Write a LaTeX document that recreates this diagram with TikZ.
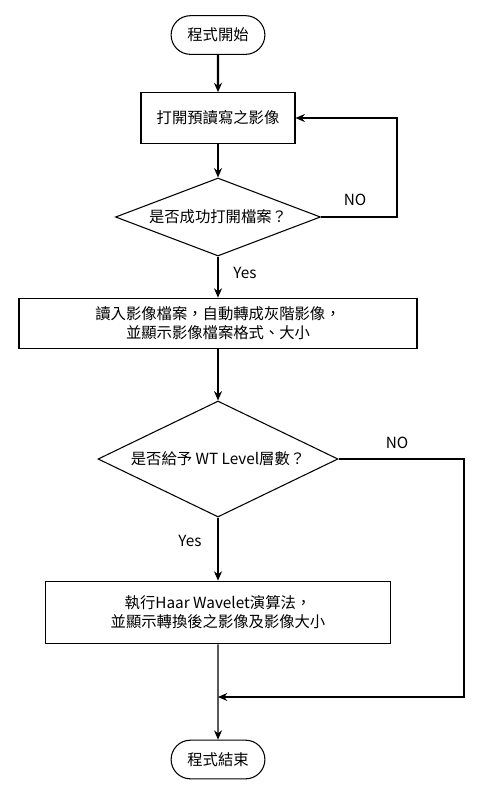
\documentclass[tikz,border=0pt]{standalone}
\usepackage{fontspec}
\setmainfont{Noto Sans CJK TC}
\usetikzlibrary{arrows.meta,positioning,shapes.geometric,shapes.misc}

\begin{document}
\begin{tikzpicture}[x=0.75pt,y=-0.75pt,line width=0.8pt,
  font=\fontsize{11.5}{14.5}\selectfont,
  term/.style={draw,rounded rectangle,minimum width=77pt,minimum height=29pt},
  proc/.style={draw,rectangle,align=center},
  decision/.style={draw,diamond,inner sep=0pt},
  arr/.style={-{Stealth[length=7pt,width=6pt]}}]
\useasboundingbox (0,0) rectangle (483,793);
\node[term] (start) at (218,35) {程式開始};
\node[proc,minimum width=115.5pt,minimum height=38pt] (open) at (218,118) {打開預讀寫之影像};
\node[decision,aspect=2.63,minimum width=153.75pt,minimum height=58.5pt] (ok) at (218,217) {是否成功打開檔案？};
\node[proc,minimum width=298.5pt,minimum height=38pt] (read) at (218,323.5) {讀入影像檔案，自動轉成灰階影像，\\並顯示影像檔案格式、大小};
\node[decision,aspect=2.07,minimum width=180pt,minimum height=87pt] (level) at (218,459) {是否給予 WT Level層數？};
\node[proc,minimum width=258.75pt,minimum height=47pt] (haar) at (218,612.5) {執行Haar Wavelet演算法，\\並顯示轉換後之影像及影像大小};
\node[term] (stop) at (218,759.5) {程式結束};
\coordinate (retry) at (397,217);
\coordinate (skip) at (464,459);
\coordinate (join) at (218,697);
\draw[arr,line width=1.6pt] (start) -- (open);
\draw[arr,line width=1.6pt] (open) -- (ok);
\draw[arr] (ok.east) -- (retry) |- (open.east);
\draw[arr] (ok) -- (read);
\draw[arr] (read) -- (level);
\draw[arr] (level.east) -- (skip) |- (join);
\draw[arr] (level) -- (haar);
\draw[arr] (haar) -- (stop);
\node (no1) at (355,200) {NO};
\node (yes1) at (245,273) {Yes};
\node (no2) at (397,443) {NO};
\node (yes2) at (190,541) {Yes};
\end{tikzpicture}
\end{document}
